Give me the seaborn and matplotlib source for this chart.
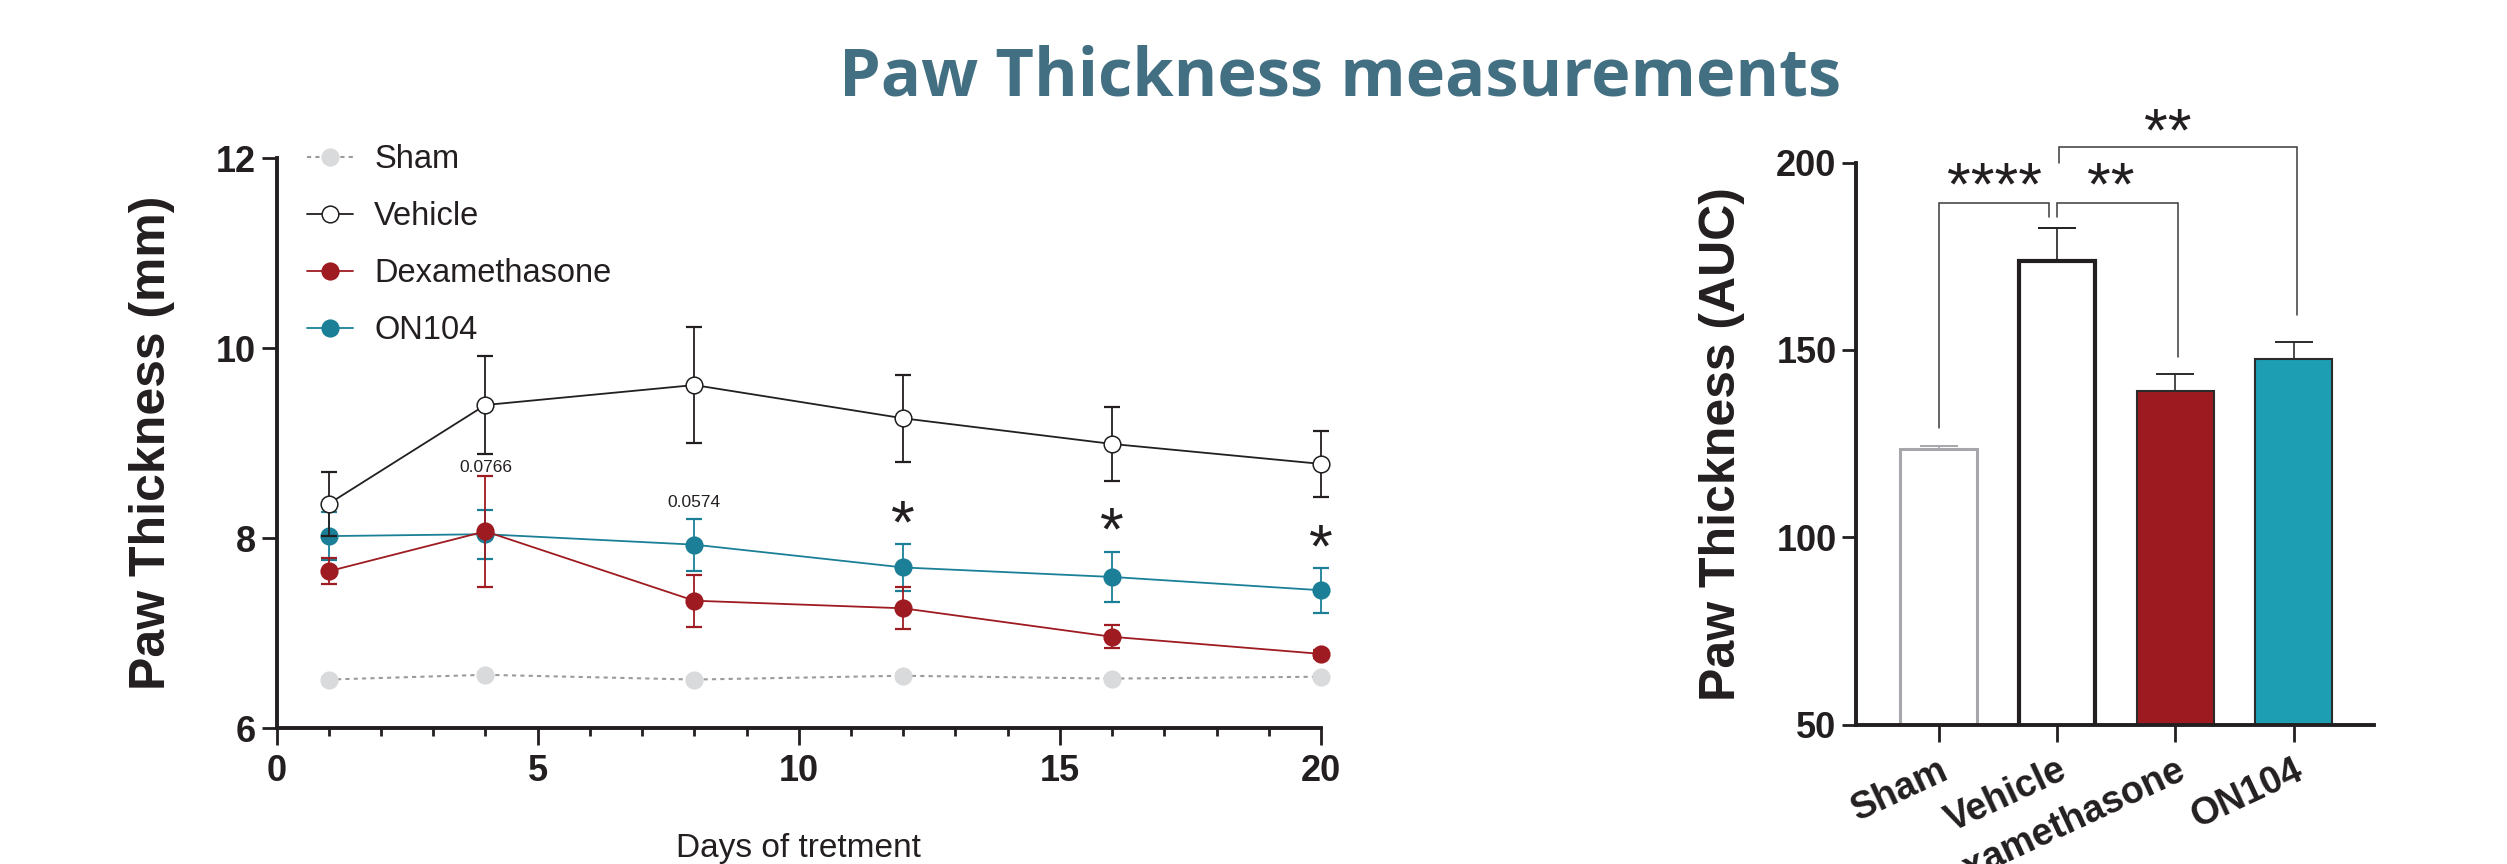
import numpy as np
import pandas as pd
import matplotlib
matplotlib.use("Agg")
import matplotlib.pyplot as plt
from matplotlib.lines import Line2D
from matplotlib.ticker import MultipleLocator
import seaborn as sns

# ---- time course (mean ± SEM) ----
days = [1, 4, 8, 12, 16, 20]
groups = ["Sham", "Vehicle", "Dexamethasone", "ON104"]

sham_mean = [6.51, 6.56, 6.51, 6.55, 6.52, 6.54]
sham_sem = [0.03, 0.03, 0.03, 0.03, 0.03, 0.03]
vehicle_mean = [8.36, 9.40, 9.61, 9.26, 8.99, 8.78]
vehicle_sem = [0.34, 0.52, 0.61, 0.46, 0.39, 0.35]
dexa_mean = [7.65, 8.07, 7.34, 7.26, 6.96, 6.78]
dexa_sem = [0.135, 0.585, 0.275, 0.22, 0.12, 0.04]
on104_mean = [8.02, 8.04, 7.93, 7.69, 7.59, 7.45]
on104_sem = [0.25, 0.26, 0.275, 0.245, 0.26, 0.235]

# p-values and significance marks on the time course
pval_days = [4, 8]
pval_text = ["0.0766", "0.0574"]
pval_y = [8.70, 8.33]
star_days = [12, 16, 20]
star_y = [8.24, 8.17, 7.99]

# ---- area under the curve ----
auc_mean = [123.6, 173.8, 139.0, 147.5]
auc_sem = [0.7, 8.7, 4.5, 4.5]

# ---- styling ----
sns.set_style("ticks")
plt.rcParams["font.family"] = ["Liberation Sans", "DejaVu Sans"]
plt.rcParams["axes.linewidth"] = 2.8

INK = "#231F20"
RED = "#9E1B21"
TEAL_LINE = "#1B8097"
TEAL_BAR = "#1D9EB3"
SHAM_MARK = "#D9DADC"
SHAM_LINE = "#9B9B9B"
TITLE_COL = "#436F83"
STAR_FS = 44

line_style = {
    "Sham": dict(color=SHAM_LINE, mfc=SHAM_MARK, mec=SHAM_MARK, ls=(0, (2, 2)), lw=1.5, err=SHAM_MARK, z=2),
    "ON104": dict(color=TEAL_LINE, mfc=TEAL_LINE, mec=TEAL_LINE, ls="-", lw=1.3, err=TEAL_LINE, z=3),
    "Dexamethasone": dict(color=RED, mfc=RED, mec=RED, ls="-", lw=1.3, err=RED, z=4),
    "Vehicle": dict(color=INK, mfc="white", mec=INK, ls="-", lw=1.3, err=INK, z=5),
}

df = pd.DataFrame({
    "day": days * 4,
    "group": sum([[g] * len(days) for g in groups], []),
    "mean": sham_mean + vehicle_mean + dexa_mean + on104_mean,
    "sem": sham_sem + vehicle_sem + dexa_sem + on104_sem,
})

W, H = 2507, 864
fig = plt.figure(figsize=(W / 100, H / 100), dpi=100)

ax = fig.add_axes([276.5 / W, 1 - 728 / H, 1044.5 / W, 570 / H])
ax2 = fig.add_axes([1856 / W, 1 - 724.5 / H, 518 / W, 561.8 / H])

# ---- line chart ----
for g in ["Sham", "ON104", "Dexamethasone", "Vehicle"]:
    st = line_style[g]
    sub = df[df["group"] == g]
    eb = ax.errorbar(sub["day"], sub["mean"], yerr=sub["sem"], fmt="none",
                     ecolor=st["err"], elinewidth=1.3, capsize=5.8, capthick=1.6,
                     zorder=st["z"])
    for art in eb.get_children():
        art.set_clip_on(False)
    sns.lineplot(data=sub, x="day", y="mean", ax=ax, errorbar=None, legend=False,
                 color=st["color"], linewidth=st["lw"], linestyle=st["ls"],
                 marker="o", markersize=12, markerfacecolor=st["mfc"],
                 markeredgecolor=st["mec"], markeredgewidth=1.1,
                 zorder=st["z"] + 0.5, clip_on=False)

ax.set_xlim(0, 20)
ax.set_ylim(6, 12)
ax.xaxis.set_major_locator(MultipleLocator(5))
ax.xaxis.set_minor_locator(MultipleLocator(1))
ax.yaxis.set_major_locator(MultipleLocator(2))
ax.tick_params(axis="x", which="major", length=12, width=2, pad=7, labelsize=26, color=INK)
ax.tick_params(axis="x", which="minor", length=6, width=2, color=INK)
ax.tick_params(axis="y", which="major", length=11, width=2, pad=4, labelsize=26, color=INK)
for lab in ax.get_xticklabels() + ax.get_yticklabels():
    lab.set_fontweight("bold")
    lab.set_color(INK)
for s in ["left", "bottom"]:
    ax.spines[s].set_color(INK)
    ax.spines[s].set_zorder(8)
sns.despine(ax=ax)

ax.set_ylabel("Paw Thickness (mm)", fontsize=36, fontweight="bold", color=INK)
ax.yaxis.label.set_va("center")
ax.yaxis.set_label_coords(-0.1192, 0.5)
ax.set_xlabel("Days of tretment", fontsize=24, color=INK)
ax.xaxis.set_label_coords(0.5, -0.185)

for d, t, y in zip(pval_days, pval_text, pval_y):
    ax.text(d, y, t, ha="center", va="baseline", fontsize=12.5, color=INK, zorder=10)
for d, y in zip(star_days, star_y):
    ax.annotate("*", xy=(d, y), xytext=(0, -0.45 * STAR_FS), textcoords="offset points",
                ha="center", va="baseline", fontsize=STAR_FS, color=INK, zorder=10,
                annotation_clip=False)

handles = []
for g in groups:
    st = line_style[g]
    handles.append(Line2D([0], [0], color=st["color"], lw=st["lw"], ls=st["ls"],
                          marker="o", markersize=12, markerfacecolor=st["mfc"],
                          markeredgecolor=st["mec"], markeredgewidth=1.1))
leg = fig.legend(handles, groups, loc="upper left", bbox_to_anchor=(307 / W, 1 - 144 / H),
                 frameon=False, fontsize=23.5, handlelength=1.4, handletextpad=0.66,
                 labelspacing=0.8, borderpad=0, borderaxespad=0)
for t in leg.get_texts():
    t.set_color(INK)

# ---- bar chart ----
bar_fill = {"Sham": "white", "Vehicle": "white", "Dexamethasone": "#9D1B20", "ON104": TEAL_BAR}
bar_edge = {"Sham": "#A5A7AA", "Vehicle": INK, "Dexamethasone": "#2B2B2B", "ON104": "#2B2B2B"}
bar_lw = {"Sham": 2.2, "Vehicle": 3.0, "Dexamethasone": 1.5, "ON104": 1.5}

sns.barplot(x=groups, y=auc_mean, hue=groups, palette=bar_fill, order=groups,
            hue_order=groups, legend=False, width=0.65, errorbar=None,
            saturation=1, ax=ax2, zorder=2)
for patch, g in zip(ax2.patches, groups):
    patch.set_edgecolor(bar_edge[g])
    patch.set_linewidth(bar_lw[g])

for i, g in enumerate(groups):
    ax2.errorbar([i], [auc_mean[i]], yerr=[[0], [auc_sem[i]]], fmt="none",
                 ecolor=bar_edge[g] if g != "Vehicle" else INK, elinewidth=1.2,
                 capsize=14, capthick=1.4, zorder=1.5)

ax2.set_xlim(-0.70, 3.68)
ax2.set_ylim(50, 200)
ax2.yaxis.set_major_locator(MultipleLocator(50))
ax2.tick_params(axis="y", length=10, width=2, pad=4, labelsize=26, color=INK)
ax2.tick_params(axis="x", length=12, width=2, pad=8, labelsize=27, color=INK)
for lab in ax2.get_yticklabels():
    lab.set_fontweight("bold")
    lab.set_color(INK)
for lab in ax2.get_xticklabels():
    lab.set_fontweight("bold")
    lab.set_color(INK)
    lab.set_rotation(25)
    lab.set_ha("right")
    lab.set_va("top")
    lab.set_rotation_mode("anchor")
for s in ["left", "bottom"]:
    ax2.spines[s].set_color(INK)
    ax2.spines[s].set_zorder(8)
sns.despine(ax=ax2)
ax2.set_xlabel("")
ax2.set_ylabel("Paw Thickness (AUC)", fontsize=36, fontweight="bold", color=INK)
ax2.yaxis.label.set_va("center")
ax2.yaxis.set_label_coords(-0.2587, 0.5)

# significance brackets: (x_left, x_right, y_top, y_left_end, y_right_end, label, label_x, label_y)
brackets = [
    (0.0, 0.934, 189.3, 129.1, 185.6, "****", 0.47, 196.3),
    (0.999, 2.02, 189.3, 185.6, 148.0, "**", 1.45, 196.3),
    (1.02, 3.03, 204.3, 199.8, 159.3, "**", 1.94, 210.5),
]
BR = "#3A3A3A"
for xl, xr, yt, yl, yr, lab, lx, ly in brackets:
    ax2.plot([xl, xl, xr, xr], [yl, yt, yt, yr], color=BR, lw=1.1,
             clip_on=False, zorder=5, solid_joinstyle="miter")
    ax2.annotate(lab, xy=(lx, ly), xytext=(0, -0.45 * STAR_FS), textcoords="offset points",
                 ha="center", va="baseline", fontsize=STAR_FS, color=INK,
                 annotation_clip=False, zorder=6)

# ---- title ----
fig.text(1340 / W, 1 - 96 / H, "Paw Thickness measurements", ha="center", va="baseline",
         fontsize=48, fontweight="bold", color=TITLE_COL, family=["Open Sans", "DejaVu Sans"])

fig.savefig("out.png", dpi=100)
